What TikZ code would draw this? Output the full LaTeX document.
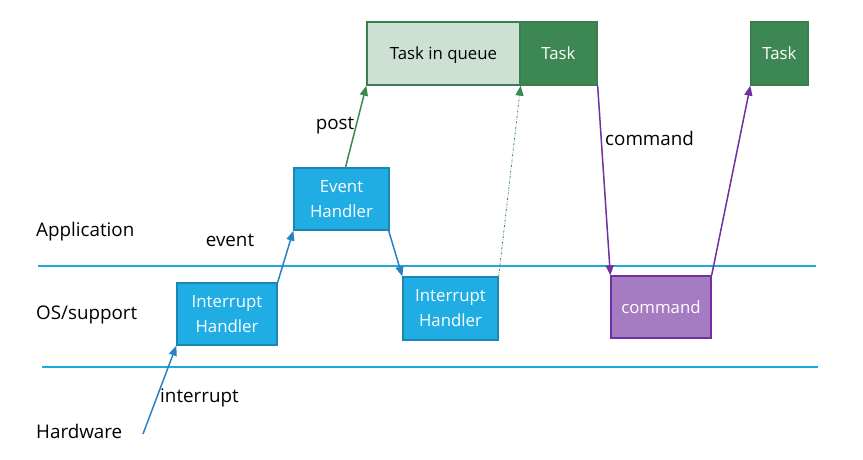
\documentclass[tikz,border=0pt]{standalone}
\usepackage{fontspec}
\setmainfont{Open Sans}
\usetikzlibrary{arrows.meta,calc}
\definecolor{lane}{HTML}{1FA9E1}
\definecolor{bfill}{HTML}{1FADE3}
\definecolor{bdraw}{HTML}{1A86B3}
\definecolor{barrow}{HTML}{2A80C4}
\definecolor{gfillL}{HTML}{CCE0D3}
\definecolor{gdraw}{HTML}{3B7F4F}
\definecolor{gfill}{HTML}{3C8753}
\definecolor{garrow}{HTML}{3A8A4F}
\definecolor{pfill}{HTML}{A57BC2}
\definecolor{pdraw}{HTML}{7030A0}
\tikzset{
  lbl/.style={font=\fontsize{18.8}{22}\selectfont, inner sep=0pt, yshift=-2.5pt},
  bluebox/.style={draw=bdraw, fill=bfill, line width=1.3pt, text=white, align=center, font=\fontsize{16.8}{25}\selectfont, inner sep=0pt},
  greenbox/.style={draw=gdraw, line width=1.3pt, align=center, font=\fontsize{16.8}{20}\selectfont, inner sep=0pt, text depth=0pt},
  purplebox/.style={draw=pdraw, fill=pfill, line width=1.3pt, text=white, align=center, font=\fontsize{16.8}{20}\selectfont, inner sep=0pt},
  tip/.style={-{Triangle[length=10pt,width=8pt]}},
}
\begin{document}
\begin{tikzpicture}[x=1pt,y=-1pt]
\useasboundingbox (0,0) rectangle (863,459);
% lanes
\draw[lane, line width=1.8pt] (38,266) -- (816,266);
\draw[lane, line width=1.8pt] (42,367) -- (818,367);
% labels
\node[lbl, anchor=west] (app) at (36,229) {Application};
\node[lbl, anchor=west] (os) at (36,312) {OS/support};
\node[lbl, anchor=west] (hw) at (36,429) {Hardware};
\node[lbl] (ev) at (230,238) {event};
\node[lbl, anchor=west] (intr) at (160,395) {interrupt};
\node[lbl] (post) at (335,123) {post};
\node[lbl, anchor=west] (cmdl) at (605,136) {command};
% boxes
\node[bluebox, minimum width=100pt, minimum height=62pt] (ih1) at (227,314) {Interrupt\\Handler};
\node[bluebox, minimum width=95pt, minimum height=62pt] (eh) at (341.5,199) {Event\\Handler};
\node[bluebox, minimum width=95pt, minimum height=63pt] (ih2) at (450.5,308.5) {Interrupt\\Handler};
\node[purplebox, minimum width=100pt, minimum height=62pt] (cmd) at (661,307) {command};
\node[greenbox, fill=gfillL, minimum width=153pt, minimum height=63pt] (tq) at (443.5,53.5) {Task in queue};
\node[greenbox, fill=gfill, text=white, minimum width=77pt, minimum height=63pt] (t1) at (558.5,53.5) {Task};
\node[greenbox, fill=gfill, text=white, minimum width=57pt, minimum height=63pt] (t2) at (779.5,53.5) {Task};
% arrows
\coordinate (hwsrc) at (143,434);
\draw[barrow, line width=1.5pt, tip] (hwsrc) -- (ih1.south west);
\draw[barrow, line width=1.5pt, tip] (ih1.north east) -- (eh.south west);
\draw[barrow, line width=1.5pt, tip] ($(eh.south east)+(-1,0)$) -- (ih2.north west);
\draw[garrow, line width=1.5pt, tip] ($(eh.north)+(4,0)$) -- (tq.south west);
\draw[garrow, line width=0.8pt, dash pattern=on 2pt off 1.5pt on 0.5pt off 1.5pt, tip] (ih2.north east) -- (tq.south east);
\draw[pdraw, line width=1.5pt, tip] (t1.south east) -- (cmd.north west);
\draw[pdraw, line width=1.5pt, tip] (cmd.north east) -- (t2.south west);
\end{tikzpicture}
\end{document}
